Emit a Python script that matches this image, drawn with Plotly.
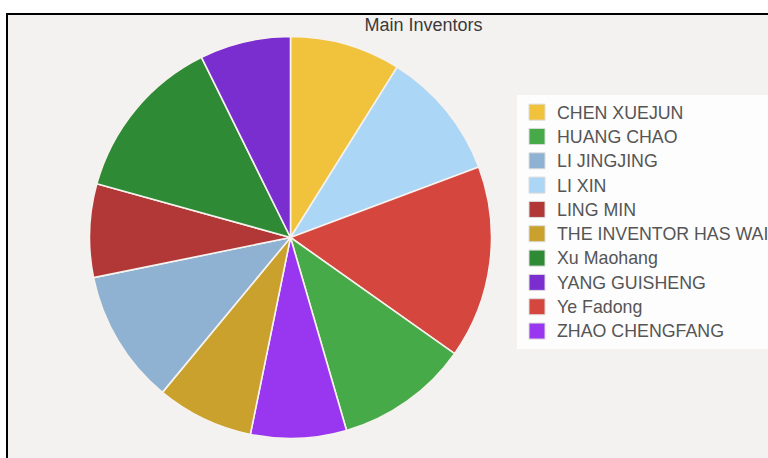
import plotly.graph_objects as go

# Share of patents per inventor (%), in the order the slices run clockwise from 12 o'clock
slice_names = [
    "CHEN XUEJUN", "LI XIN", "Ye Fadong", "HUANG CHAO", "ZHAO CHENGFANG",
    "THE INVENTOR HAS WAIVED THE RIGHT TO BE MENTIONED", "LI JINGJING",
    "LING MIN", "Xu Maohang", "YANG GUISHENG",
]
slice_values = [8.9, 10.4, 15.5, 10.7, 7.7, 7.8, 10.8, 7.5, 13.4, 7.3]

# Colour per inventor
inventor_colors = {
    "CHEN XUEJUN": "#f1c23c",
    "HUANG CHAO": "#46aa48",
    "LI JINGJING": "#8fb2d2",
    "LI XIN": "#acd6f6",
    "LING MIN": "#b23838",
    "THE INVENTOR HAS WAIVED THE RIGHT TO BE MENTIONED": "#c9a12c",
    "Xu Maohang": "#2f8a35",
    "YANG GUISHENG": "#7a2ed0",
    "Ye Fadong": "#d5463f",
    "ZHAO CHENGFANG": "#9837ef",
}

# Legend lists the inventors alphabetically
legend_names = sorted(inventor_colors.keys(), key=lambda s: s.upper())

W, H = 768, 458

fig = go.Figure()

fig.add_trace(go.Pie(
    labels=slice_names,
    values=slice_values,
    sort=False,
    direction="clockwise",
    rotation=0,
    textinfo="none",
    showlegend=False,
    marker=dict(colors=[inventor_colors[n] for n in slice_names],
                line=dict(color="#f6f2ee", width=1.6)),
    domain=dict(x=[(290.5 - 201) / W, (290.5 + 201) / W],
                y=[1 - (237.5 + 201) / H, 1 - (237.5 - 201) / H]),
))

# Legend entries: text drawn a little larger than the row spacing font
for name in legend_names:
    fig.add_trace(go.Scatter(
        x=[None], y=[None], mode="markers",
        name=f"<span style='font-size:17.8px'>{name}</span>",
        marker=dict(symbol="square", size=16, color=inventor_colors[name],
                    line=dict(color="#dcdcdc", width=1)),
        hoverinfo="skip",
    ))

fig.update_layout(
    width=W, height=H,
    margin=dict(l=0, r=0, t=0, b=0, autoexpand=False),
    paper_bgcolor="white",
    plot_bgcolor="rgba(0,0,0,0)",
    xaxis=dict(visible=False),
    yaxis=dict(visible=False),
    font=dict(family="Arial, Liberation Sans, sans-serif", color="#555555"),
    title=dict(text="Main Inventors", x=423.5 / W, xanchor="center",
               y=1 - 25 / H, yanchor="middle",
               font=dict(size=18, color="#3a3a3a")),
    legend=dict(x=517 / W, xanchor="left", y=1 - 95 / H, yanchor="top",
                bgcolor="#fdfdfd", borderwidth=0,
                font=dict(size=16.4, color="#555555"),
                itemclick=False, itemdoubleclick=False),
    shapes=[dict(type="rect", xref="paper", yref="paper",
                 x0=7 / W, x1=1.02, y0=-0.05, y1=1 - 14 / H,
                 fillcolor="#f4f2f1", line=dict(color="black", width=2),
                 layer="below")],
)

fig.write_html("out.html")
